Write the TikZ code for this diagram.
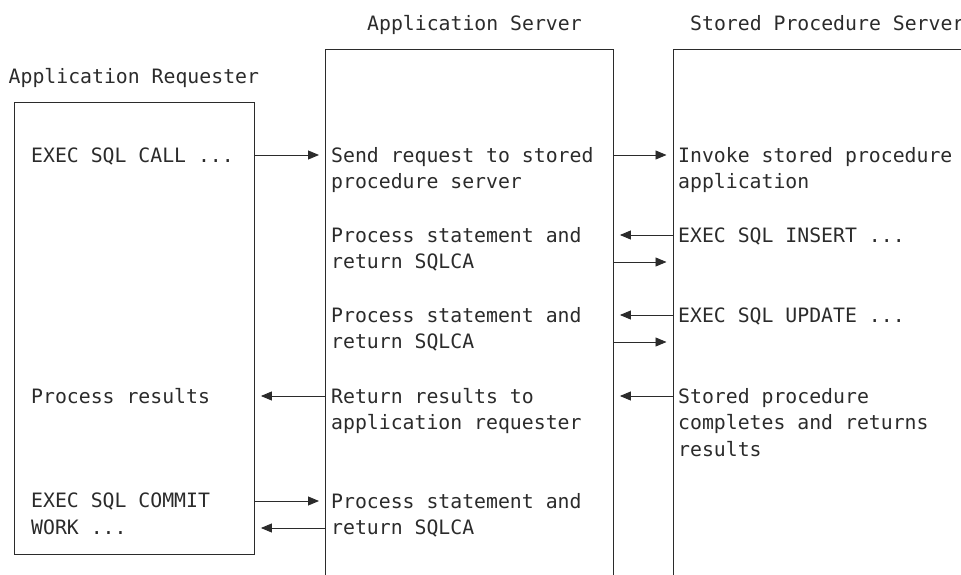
\documentclass[tikz,border=0pt]{standalone}
\usepackage{fontspec}
\setmonofont{DejaVu Sans Mono}
\usetikzlibrary{
  arrows.meta,
  positioning
}
\definecolor{flowInk}{HTML}{2B2B2B}
\tikzset{
  flowBox/.style={
    draw=flowInk,
    line width=0.9pt,
    inner sep=0pt,
    anchor=north west
  },
  flowText/.style={
    font=\ttfamily\fontsize{19.8}{26.7}\selectfont,
    text=flowInk,
    align=left,
    anchor=north west,
    inner sep=0pt,
    execute at begin node=\strut
  },
  flowArrow/.style={-{Triangle[length=11pt,width=9pt]}, line width=0.9pt, flowInk, shorten >=6pt}
}

\begin{document}
\begin{tikzpicture}[x=1pt,y=-1pt]
  \useasboundingbox (0,0) rectangle (961,575);
  \clip (0,0) rectangle (961,575);

  \node[flowBox, minimum width=240pt, minimum height=452pt] (requester) at (14,102) {};
  \node[flowBox, minimum width=288pt, minimum height=560pt] (appserver) at (325,49) {};
  \node[flowBox, minimum width=400pt, minimum height=560pt] (spserver) at (672.5,49) {};

  \node[flowText] (reqTitle) at (8.5,64.3) {Application Requester};
  \node[flowText] (asTitle)  at (367,11.8) {Application Server};
  \node[flowText] (spsTitle) at (690,11.8) {Stored Procedure Server};

  \node[flowText] (call)    at (31,143.8)  {EXEC SQL CALL ...};
  \node[flowText] (send)    at (331,146.8) {Send request to stored\\procedure server};
  \node[flowText] (invoke)  at (678,146.8) {Invoke stored procedure\\application};
  \node[flowText] (stmtA)   at (331,226.8) {Process statement and\\return SQLCA};
  \node[flowText] (insert)  at (678,223.8) {EXEC SQL INSERT ...};
  \node[flowText] (stmtB)   at (331,306.8) {Process statement and\\return SQLCA};
  \node[flowText] (update)  at (678,303.8) {EXEC SQL UPDATE ...};
  \node[flowText] (results) at (31,384.8)  {Process results};
  \node[flowText] (retres)  at (331,387.8) {Return results to\\application requester};
  \node[flowText] (done)    at (678,387.8) {Stored procedure\\completes and returns\\results};
  \node[flowText] (commit)  at (31,492.8)  {EXEC SQL COMMIT\\WORK ...};
  \node[flowText] (stmtC)   at (331,492.8) {Process statement and\\return SQLCA};

  % arrow rows
  \coordinate (r1)  at (0,155);
  \coordinate (r2a) at (0,235);
  \coordinate (r2b) at (0,262);
  \coordinate (r3a) at (0,315);
  \coordinate (r3b) at (0,342);
  \coordinate (r4)  at (0,396);
  \coordinate (r5a) at (0,501);
  \coordinate (r5b) at (0,528);

  \draw[flowArrow] (requester.east |- r1) -- (appserver.west |- r1);
  \draw[flowArrow] (appserver.east |- r1) -- (spserver.west |- r1);
  \draw[flowArrow] (spserver.west |- r2a) -- (appserver.east |- r2a);
  \draw[flowArrow] (appserver.east |- r2b) -- (spserver.west |- r2b);
  \draw[flowArrow] (spserver.west |- r3a) -- (appserver.east |- r3a);
  \draw[flowArrow] (appserver.east |- r3b) -- (spserver.west |- r3b);
  \draw[flowArrow] (spserver.west |- r4) -- (appserver.east |- r4);
  \draw[flowArrow] (appserver.west |- r4) -- (requester.east |- r4);
  \draw[flowArrow] (requester.east |- r5a) -- (appserver.west |- r5a);
  \draw[flowArrow] (appserver.west |- r5b) -- (requester.east |- r5b);
\end{tikzpicture}
\end{document}
